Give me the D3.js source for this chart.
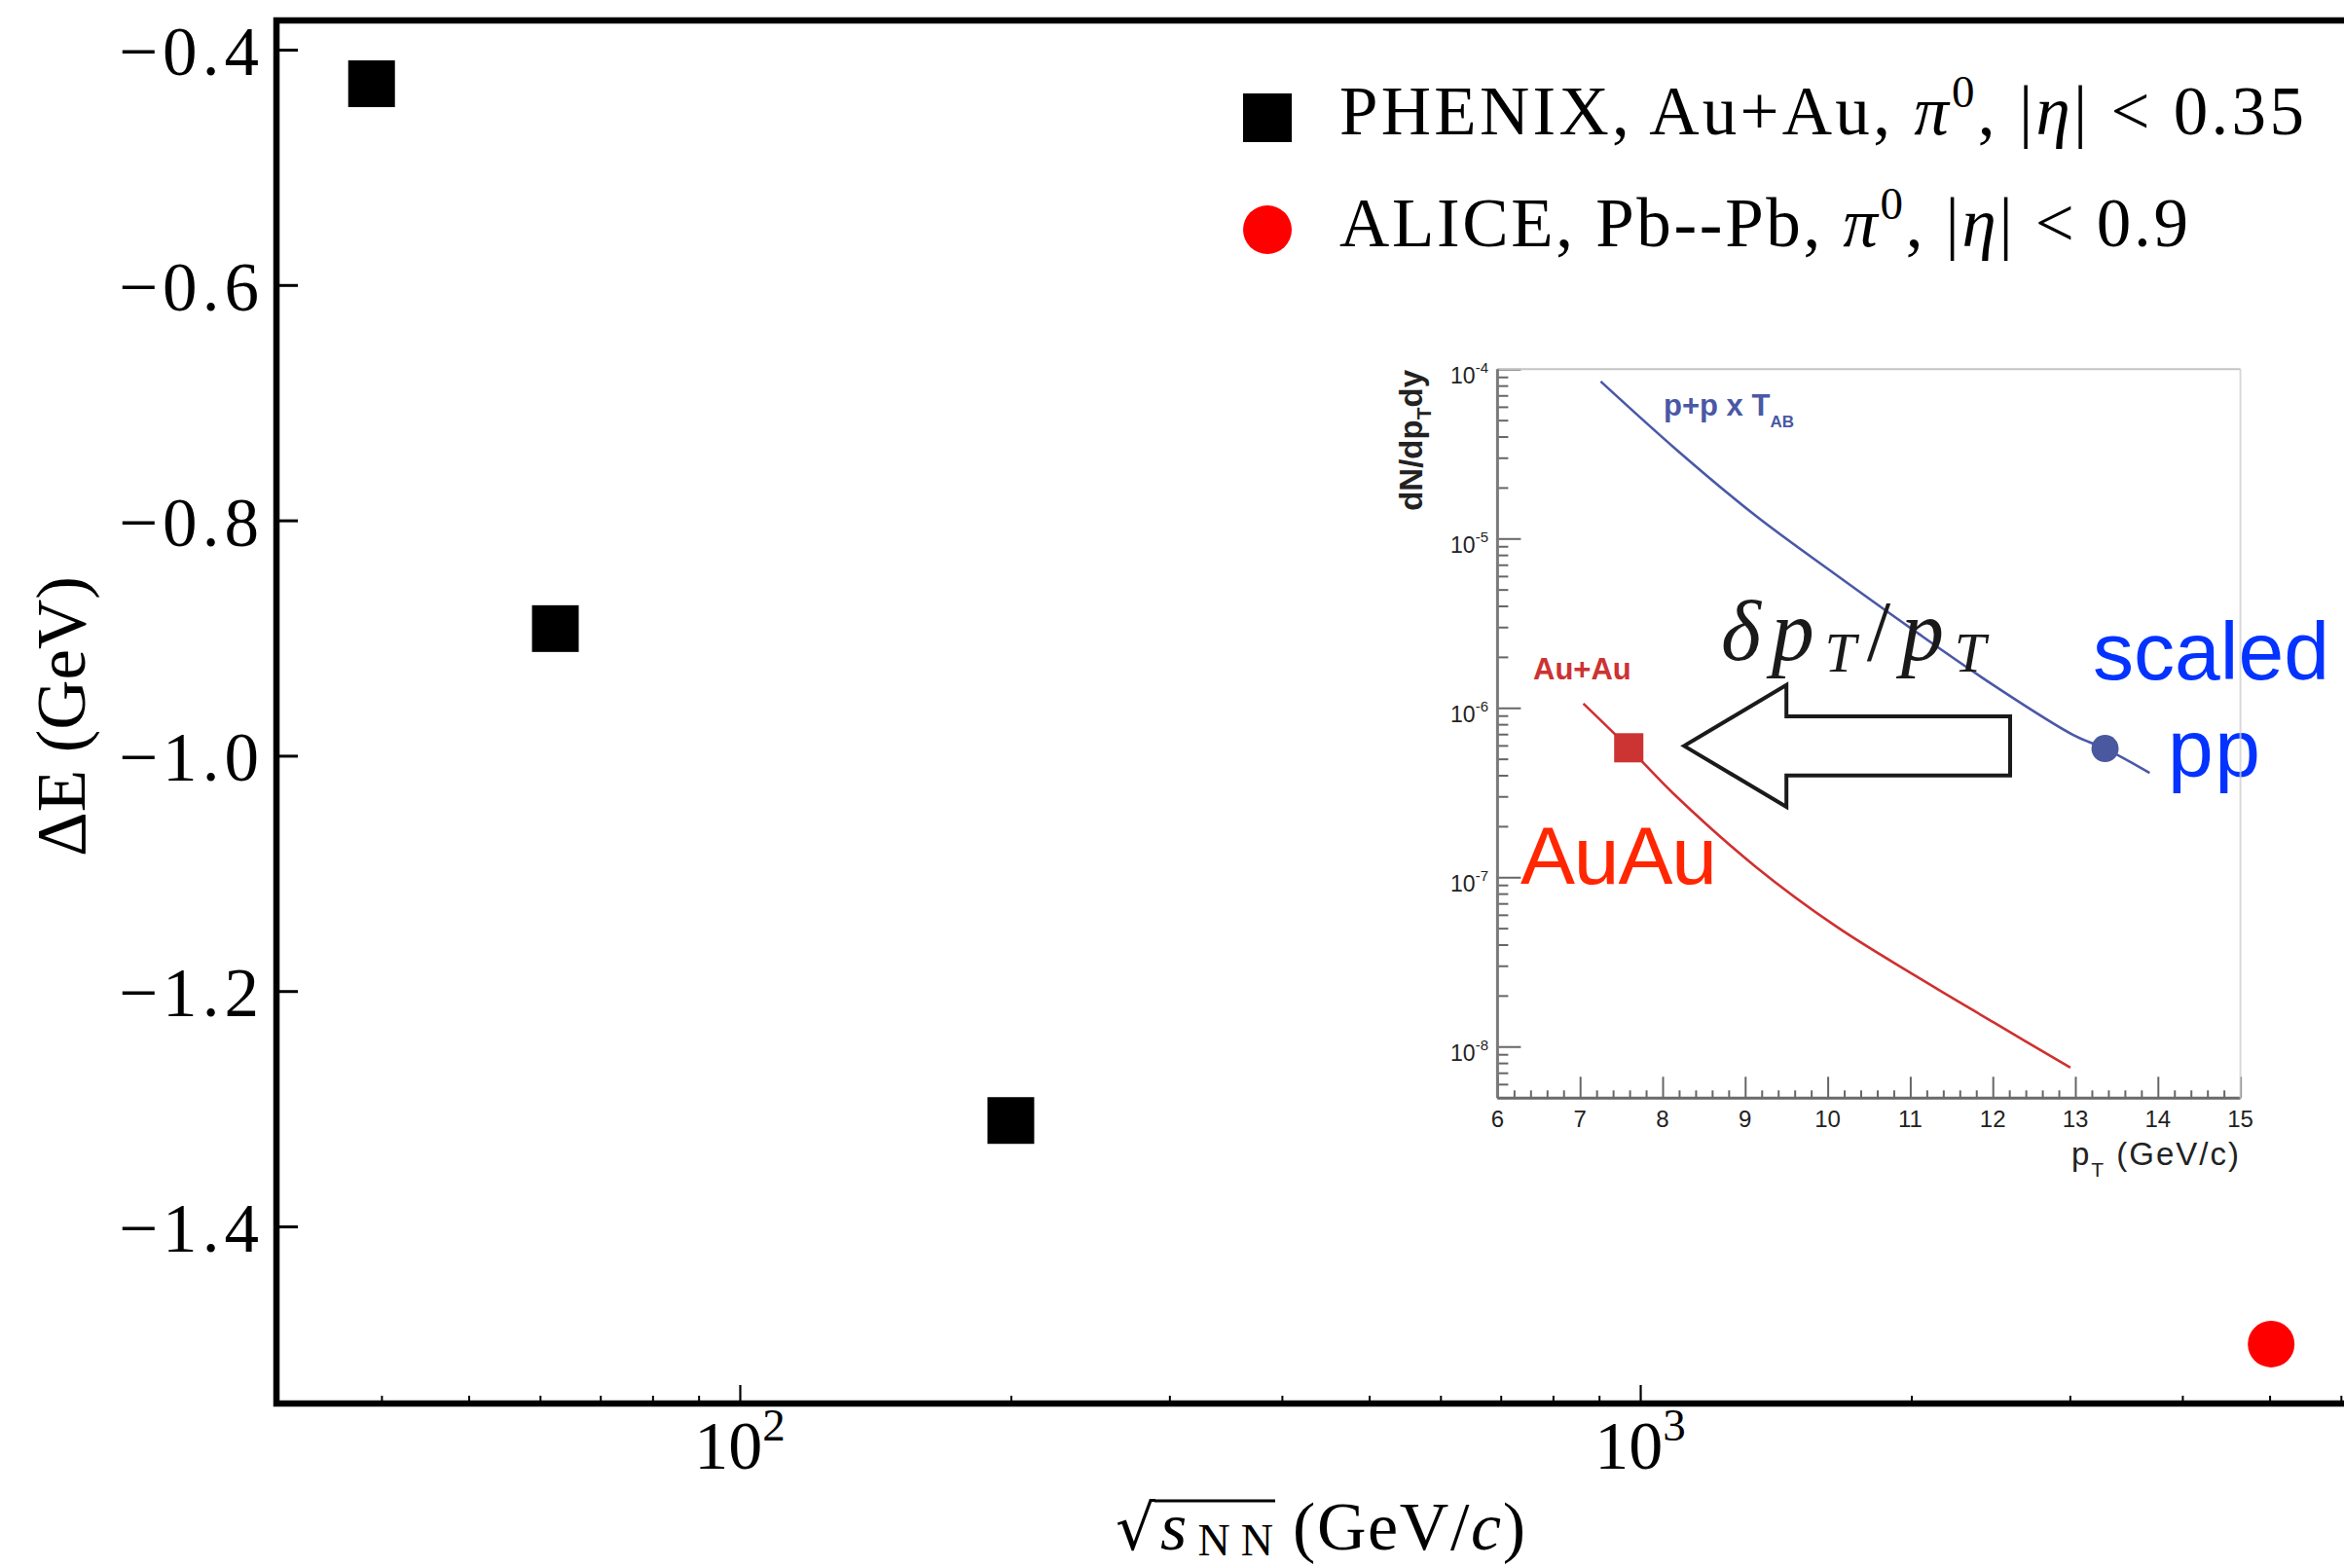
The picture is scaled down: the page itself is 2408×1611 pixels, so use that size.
<!DOCTYPE html>
<html><head><meta charset="utf-8">
<script src="https://cdn.jsdelivr.net/npm/d3@7"></script>
<style>html,body{margin:0;padding:0;background:#fff;} svg{display:block;}</style>
</head><body>
<svg id="c" width="2408" height="1611" xmlns="http://www.w3.org/2000/svg"></svg>
<script>
// ---------------- data (main plot) ----------------
const phenixSqrtS = [39, 62.4, 200];
const phenixDeltaE = [-0.429, -0.892, -1.31];
const aliceSqrtS = [5020];
const aliceDeltaE = [-1.50];
const yTicks = [-0.4, -0.6, -0.8, -1.0, -1.2, -1.4];
const yTickLabels = ["\u22120.4", "\u22120.6", "\u22120.8", "\u22121.0", "\u22121.2", "\u22121.4"];
const xMajorTicks = [100, 1000];
const xMajorExp = ["2", "3"];
const xMinorTicks = [40, 50, 60, 70, 80, 90, 200, 300, 400, 500, 600, 700, 800, 900, 2000, 3000, 4000, 5000, 6000];
const legendPrefix = ["PHENIX, Au+Au, ", "ALICE, Pb--Pb, "];
const legendCut = ["0.35", "0.9"];

// ---------------- data (inset) ----------------
const insetXTicks = [6, 7, 8, 9, 10, 11, 12, 13, 14, 15];
const insetXMinor = [6.2,6.4,6.6,6.8,7.2,7.4,7.6,7.8,8.2,8.4,8.6,8.8,9.2,9.4,9.6,9.8,10.2,10.4,10.6,10.8,11.2,11.4,11.6,11.8,12.2,12.4,12.6,12.8,13.2,13.4,13.6,13.8,14.2,14.4,14.6,14.8];
const insetYTicks = [1e-4, 1e-5, 1e-6, 1e-7, 1e-8];
const insetYExp = ["-4", "-5", "-6", "-7", "-8"];
const ppPt    = [7.25, 8.17, 9.13, 10.10, 11.06, 12.02, 12.98, 13.36, 13.90];
const ppYield = [8.47e-5, 3.34e-5, 1.36e-5, 6.11e-6, 2.83e-6, 1.35e-6, 6.90e-7, 5.75e-7, 4.13e-7];
const auPt    = [7.04, 7.59, 8.17, 9.13, 10.10, 11.06, 12.02, 12.94];
const auYield = [1.06e-6, 5.81e-7, 2.99e-7, 1.15e-7, 5.13e-8, 2.62e-8, 1.38e-8, 7.50e-9];
const auMarkerPt = [7.59], auMarkerYield = [5.81e-7];
const ppMarkerPt = [13.36], ppMarkerYield = [5.75e-7];
// shift arrow (pT of tail, head base, tip; centre yield; half-widths in decades)
const arrowPt = [12.21, 9.50, 8.26];
const arrowCentre = [5.96e-7];
const arrowHalf = [0.174, 0.360];

const SERIF = "'Liberation Serif','DejaVu Serif',serif";
const SANS = "'Liberation Sans',Arial,Helvetica,sans-serif";

const svg = d3.select('#c');
svg.append('rect').attr('width', 2408).attr('height', 1611).attr('fill', '#fff');

function fitText(t, target) {
  t.attr('letter-spacing', 0);
  const w = t.node().getComputedTextLength();
  const n = t.text().length;
  if (n > 1) t.attr('letter-spacing', ((target - w) / (n - 1)).toFixed(2));
}

// ---------------- main scales ----------------
const X = d3.scaleLog().domain([30.58, 6231]).range([284, 2420]);
const Y = d3.scaleLinear().domain([-1.5505, -0.3752]).range([1442, 21]);

const main = svg.append('g');

const yAx = main.append('g').attr('transform', 'translate(284,0)')
  .call(d3.axisLeft(Y).tickValues(yTicks).tickSize(-22).tickFormat(''));
yAx.select('.domain').remove();
yAx.selectAll('line').attr('stroke', '#000').attr('stroke-width', 3);

const xAxMaj = main.append('g').attr('transform', 'translate(0,1442)')
  .call(d3.axisBottom(X).tickValues(xMajorTicks).tickSize(-19).tickFormat(''));
xAxMaj.select('.domain').remove();
xAxMaj.selectAll('line').attr('stroke', '#000').attr('stroke-width', 2.2);
const xAxMin = main.append('g').attr('transform', 'translate(0,1442)')
  .call(d3.axisBottom(X).tickValues(xMinorTicks).tickSize(-8).tickFormat(''));
xAxMin.select('.domain').remove();
xAxMin.selectAll('line').attr('stroke', '#000').attr('stroke-width', 2);

main.append('rect').attr('x', X.range()[0]).attr('y', Y.range()[1])
  .attr('width', X.range()[1] - X.range()[0]).attr('height', Y.range()[0] - Y.range()[1])
  .attr('fill', 'none').attr('stroke', '#000').attr('stroke-width', 6.5);

yTicks.forEach((v, i) => {
  const t = main.append('text').attr('x', 122).attr('y', Y(v) + 26)
    .attr('font-family', SERIF).attr('font-size', 71).attr('fill', '#000')
    .text(yTickLabels[i]);
  fitText(t, 144);
});

xMajorTicks.forEach((v, i) => {
  const t = main.append('text').attr('x', X(v)).attr('y', 1509)
    .attr('text-anchor', 'middle').attr('font-family', SERIF).attr('font-size', 70).attr('fill', '#000');
  t.append('tspan').text('10');
  t.append('tspan').attr('font-size', 47).attr('dy', -29).text(xMajorExp[i]);
});

{
  const t = main.append('text').attr('transform', 'translate(87,880) rotate(-90)')
    .attr('font-family', SERIF).attr('font-size', 71).attr('fill', '#000').text('\u0394E (GeV)');
  fitText(t, 288);
}

// x axis label: sqrt(s_NN) (GeV/c)
{
  main.append('text').attr('x', 1146).attr('y', 1592).attr('font-family', "'DejaVu Serif',serif")
    .attr('font-size', 64).attr('fill', '#000').text('\u221A');
  main.append('line').attr('x1', 1186).attr('x2', 1310).attr('y1', 1542).attr('y2', 1542)
    .attr('stroke', '#000').attr('stroke-width', 3);
  const s = main.append('text').attr('x', 1192).attr('y', 1592).attr('font-family', SERIF)
    .attr('font-size', 70).attr('fill', '#000');
  s.append('tspan').attr('font-style', 'italic').text('s');
  s.append('tspan').attr('font-size', 46).attr('dy', 6).text('NN');
  fitText(s, 116);
  const g = main.append('text').attr('x', 1328).attr('y', 1592).attr('font-family', SERIF)
    .attr('font-size', 70).attr('fill', '#000');
  g.append('tspan').text('(GeV/');
  g.append('tspan').attr('font-style', 'italic').text('c');
  g.append('tspan').text(')');
  fitText(g, 239);
}

main.selectAll('rect.phenix').data(phenixSqrtS).enter().append('rect').attr('class', 'phenix')
  .attr('x', (d) => X(d) - 24).attr('y', (d, i) => Y(phenixDeltaE[i]) - 24)
  .attr('width', 48).attr('height', 48).attr('fill', '#000');
main.selectAll('circle.alice').data(aliceSqrtS).enter().append('circle').attr('class', 'alice')
  .attr('cx', (d) => X(d)).attr('cy', (d, i) => Y(aliceDeltaE[i])).attr('r', 24).attr('fill', '#ff0000');

// legend
const legY = [121, 236];
main.append('rect').attr('x', 1277).attr('y', legY[0] - 25).attr('width', 50).attr('height', 50).attr('fill', '#000');
main.append('circle').attr('cx', 1302).attr('cy', legY[1]).attr('r', 25).attr('fill', '#ff0000');
const legTargets = [991, 872];
legendPrefix.forEach((p, i) => {
  const t = main.append('text').attr('x', 1376).attr('y', legY[i] + 16.5)
    .attr('font-family', SERIF).attr('font-size', 71).attr('fill', '#000');
  t.append('tspan').text(p);
  t.append('tspan').attr('font-style', 'italic').text('\u03C0');
  t.append('tspan').attr('font-size', 47).attr('dy', -28).text('0');
  t.append('tspan').attr('dy', 28).text(', |');
  t.append('tspan').attr('font-style', 'italic').text('\u03B7');
  t.append('tspan').text('| < ' + legendCut[i]);
  fitText(t, legTargets[i]);
});

// ---------------- inset ----------------
const XI = d3.scaleLinear().domain([6, 15]).range([1538.4, 2301.6]);
const YI = d3.scaleLog().domain([Math.pow(10, -8.305), 1e-4]).range([1128.3, 379.3]);
const inset = svg.append('g');

const yMinor = [];
for (let e = -9; e <= -5; e++) for (let k = 2; k <= 9; k++) {
  const v = k * Math.pow(10, e);
  if (v > YI.domain()[0] && v < YI.domain()[1]) yMinor.push(v);
}
const iyMaj = inset.append('g').attr('transform', `translate(${XI(6)},0)`)
  .call(d3.axisLeft(YI).tickValues(insetYTicks).tickSize(-24).tickFormat(''));
const iyMin = inset.append('g').attr('transform', `translate(${XI(6)},0)`)
  .call(d3.axisLeft(YI).tickValues(yMinor).tickSize(-11).tickFormat(''));
const ixMaj = inset.append('g').attr('transform', `translate(0,${YI.range()[0]})`)
  .call(d3.axisBottom(XI).tickValues(insetXTicks).tickSize(-22).tickFormat(''));
const ixMin = inset.append('g').attr('transform', `translate(0,${YI.range()[0]})`)
  .call(d3.axisBottom(XI).tickValues(insetXMinor).tickSize(-8).tickFormat(''));
[iyMaj, iyMin, ixMaj, ixMin].forEach(a => {
  a.select('.domain').remove();
  a.selectAll('line').attr('stroke', '#666').attr('stroke-width', 2);
});
inset.append('line').attr('x1', XI(6)).attr('x2', XI(15)).attr('y1', YI.range()[1]).attr('y2', YI.range()[1])
  .attr('stroke', '#c4c4c4').attr('stroke-width', 2);
inset.append('line').attr('x1', XI(6)).attr('x2', XI(6)).attr('y1', YI.range()[1]).attr('y2', YI.range()[0])
  .attr('stroke', '#7a7a7a').attr('stroke-width', 3);
inset.append('line').attr('x1', XI(6)).attr('x2', XI(15)).attr('y1', YI.range()[0]).attr('y2', YI.range()[0])
  .attr('stroke', '#6a6a6a').attr('stroke-width', 3);

insetXTicks.forEach(v => {
  inset.append('text').attr('x', XI(v)).attr('y', 1158).attr('text-anchor', 'middle')
    .attr('font-family', SANS).attr('font-size', 24).attr('fill', '#222').text(v);
});
insetYTicks.forEach((v, i) => {
  const t = inset.append('text').attr('x', 1529).attr('y', YI(v) + 15).attr('text-anchor', 'end')
    .attr('font-family', SANS).attr('font-size', 23).attr('fill', '#222');
  t.append('tspan').text('10');
  t.append('tspan').attr('font-size', 15).attr('dy', -11).text(insetYExp[i]);
});
{
  const t = inset.append('text').attr('x', 2128).attr('y', 1197)
    .attr('font-family', SANS).attr('font-size', 33).attr('fill', '#222');
  t.append('tspan').text('p');
  t.append('tspan').attr('font-size', 21).attr('dy', 12).text('T');
  t.append('tspan').attr('dy', -12).text(' (GeV/c)');
  fitText(t, 172);
  const u = inset.append('text').attr('transform', 'translate(1461,380) rotate(-90)')
    .attr('text-anchor', 'end').attr('font-family', SANS).attr('font-weight', 'bold')
    .attr('font-size', 33).attr('fill', '#222');
  u.append('tspan').text('dN/dp');
  u.append('tspan').attr('font-size', 21).attr('dy', 9).text('T');
  u.append('tspan').attr('dy', -9).text('dy');
}

const lineI = d3.line().curve(d3.curveCatmullRom.alpha(0.5)).x(d => XI(d[0])).y(d => YI(d[1]));
inset.append('path').datum(ppPt.map((p, i) => [p, ppYield[i]])).attr('d', lineI)
  .attr('fill', 'none').attr('stroke', '#4a58a6').attr('stroke-width', 2.6);
inset.append('path').datum(auPt.map((p, i) => [p, auYield[i]])).attr('d', lineI)
  .attr('fill', 'none').attr('stroke', '#cf3030').attr('stroke-width', 2.6);
inset.selectAll('rect.aum').data(auMarkerPt).enter().append('rect').attr('class', 'aum')
  .attr('x', d => XI(d) - 15).attr('y', (d, i) => YI(auMarkerYield[i]) - 15)
  .attr('width', 30).attr('height', 30).attr('fill', '#cc3333');
inset.selectAll('circle.ppm').data(ppMarkerPt).enter().append('circle').attr('class', 'ppm')
  .attr('cx', d => XI(d)).attr('cy', (d, i) => YI(ppMarkerYield[i])).attr('r', 14).attr('fill', '#4a58a0');

{
  const t = inset.append('text').attr('x', 1709).attr('y', 427).attr('font-family', SANS)
    .attr('font-weight', 'bold').attr('font-size', 31).attr('fill', '#4a58a6');
  t.append('tspan').text('p+p x T');
  t.append('tspan').attr('font-size', 17).attr('dy', 12).text('AB');
  inset.append('text').attr('x', 1575).attr('y', 698).attr('font-family', SANS)
    .attr('font-weight', 'bold').attr('font-size', 31).attr('fill', '#cc3333').text('Au+Au');
}

{
  const lc = Math.log10(arrowCentre[0]);
  const yy = dl => YI(Math.pow(10, lc + dl));
  const pts = [
    [XI(arrowPt[2]), yy(0)],
    [XI(arrowPt[1]), yy(arrowHalf[1])],
    [XI(arrowPt[1]), yy(arrowHalf[0])],
    [XI(arrowPt[0]), yy(arrowHalf[0])],
    [XI(arrowPt[0]), yy(-arrowHalf[0])],
    [XI(arrowPt[1]), yy(-arrowHalf[0])],
    [XI(arrowPt[1]), yy(-arrowHalf[1])]
  ];
  inset.append('path').attr('d', 'M' + pts.map(p => p.join(',')).join('L') + 'Z')
    .attr('fill', '#fff').attr('stroke', '#1a1a1a').attr('stroke-width', 4).attr('stroke-linejoin', 'miter');
}

{
  const t = inset.append('text').attr('x', 1768).attr('y', 678).attr('font-family', SERIF)
    .attr('font-size', 88).attr('fill', '#1a1a1a');
  t.append('tspan').attr('font-style', 'italic').text('\u03B4p');
  t.append('tspan').attr('font-style', 'italic').attr('font-size', 58).attr('dy', 12).text('T');
  t.append('tspan').attr('dy', -12).text('/');
  t.append('tspan').attr('font-style', 'italic').text('p');
  t.append('tspan').attr('font-style', 'italic').attr('font-size', 58).attr('dy', 12).text('T');
  fitText(t, 272);
}

{
  const a = inset.append('text').attr('x', 2150).attr('y', 698).attr('font-family', SANS)
    .attr('font-size', 84).attr('fill', '#0433ff').text('scaled');
  fitText(a, 243);
  const b = inset.append('text').attr('x', 2227).attr('y', 798).attr('font-family', SANS)
    .attr('font-size', 84).attr('fill', '#0433ff').text('pp');
  fitText(b, 95);
  const c = inset.append('text').attr('x', 1562).attr('y', 908).attr('font-family', SANS)
    .attr('font-size', 84).attr('fill', '#ff2600').text('AuAu');
  fitText(c, 202);
}
inset.append('line').attr('x1', XI(15)).attr('x2', XI(15)).attr('y1', YI.range()[1]).attr('y2', YI.range()[0])
  .attr('stroke', '#d0d0d0').attr('stroke-width', 2).attr('opacity', 0.8);
</script>
</body></html>
